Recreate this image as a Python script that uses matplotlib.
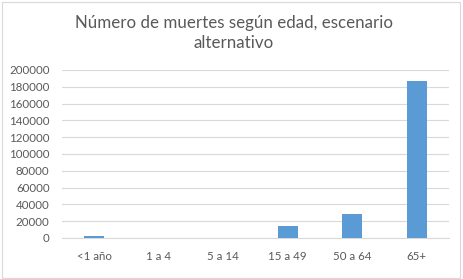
import matplotlib.pyplot as plt
from matplotlib.patches import Rectangle

# Data
categories = ['<1 año', '1 a 4', '5 a 14', '15 a 49', '50 a 64', '65+']
deaths = [2300, 300, 250, 14000, 29000, 187000]
yticks = list(range(0, 200001, 20000))

plt.rcParams['font.family'] = ['Lato', 'DejaVu Sans']

fig = plt.figure(figsize=(4.63, 2.79), dpi=100)
ax = fig.add_axes([62 / 463, 1 - 238 / 279, (449 - 62) / 463, (238 - 70) / 279])

x = range(len(categories))
ax.bar(x, deaths, width=0.31, color='#5b9bd5', zorder=3)

ax.set_xlim(-0.5, len(categories) - 0.5)
ax.set_ylim(0, 200000)
ax.set_yticks(yticks)
ax.set_yticklabels([str(v) for v in yticks])
ax.set_xticks(list(x))
ax.set_xticklabels(categories)
ax.tick_params(axis='both', length=0, labelsize=8.3, colors='#595959')
ax.tick_params(axis='x', pad=9)
ax.tick_params(axis='y', pad=9)

ax.grid(axis='y', color='#d9d9d9', linewidth=0.8, zorder=0)
for side in ['left', 'right', 'top']:
    ax.spines[side].set_visible(False)
ax.spines['bottom'].set_color('#d9d9d9')

fig.text(0.505, 1 - 33 / 279, 'Número de muertes según edad, escenario\nalternativo',
         ha='center', va='center', fontsize=12.2, color='#595959', linespacing=1.3)

# light chart border
fig.patches.append(Rectangle((0.004, 0.004), 0.99, 0.99, transform=fig.transFigure,
                             fill=False, edgecolor='#d9d9d9', linewidth=0.8))

fig.savefig('out.png', dpi=100)
